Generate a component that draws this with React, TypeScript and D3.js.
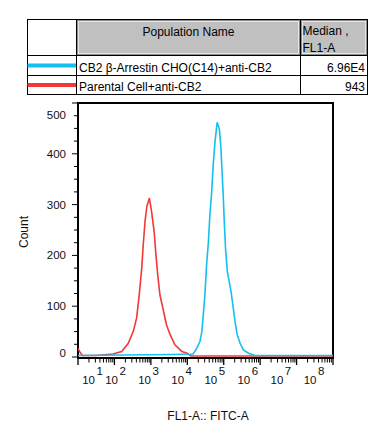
import {useEffect, useRef} from "react";
import * as d3 from "d3";

// histogram outlines: log10(FL1-A) vs count
const redLog = [1.0, 1.05, 1.12, 1.5, 1.96, 2.2, 2.38, 2.52, 2.61, 2.68, 2.75, 2.79, 2.84, 2.89, 2.96, 3.02, 3.09, 3.14, 3.19, 3.25, 3.33, 3.43, 3.53, 3.66, 3.85, 3.98, 4.1, 8.0];
const redCount = [15, 8, 1, 1, 4, 9, 25, 49, 75, 120, 173, 218, 265, 294, 311, 284, 245, 199, 159, 120, 94, 61, 42, 22, 9, 6, 0, 0];

const cyanLog = [1.0, 3.6, 4.16, 4.26, 4.35, 4.4, 4.44, 4.49, 4.53, 4.58, 4.62, 4.67, 4.71, 4.76, 4.82, 4.88, 4.92, 4.96, 4.99, 5.02, 5.05, 5.1, 5.15, 5.2, 5.25, 5.31, 5.37, 5.45, 5.54, 5.67, 5.86, 8.0];
const cyanCount = [1, 3, 4, 15, 29, 48, 81, 127, 180, 225, 277, 323, 375, 421, 460, 447, 414, 355, 310, 257, 212, 166, 147, 127, 101, 68, 42, 25, 12, 6, 1, 1];

const populations = ["CB2 β-Arrestin CHO(C14)+anti-CB2", "Parental Cell+anti-CB2"];
const medians = ["6.96E4", "943"];
const colors = ["#16bfee", "#f23838"];

const yTicks = [0, 100, 200, 300, 400, 500];
const xDecades = [1, 2, 3, 4, 5, 6, 7, 8];

const FONT = "'Liberation Sans', Arial, sans-serif";

const App = () => {
    const ref = useRef<SVGSVGElement>(null);

    useEffect(() => {
        const svg = d3.select(ref.current);
        svg.selectAll("*").remove();

        const left = 78, right = 333, top = 103, bottom = 357;
        const x = d3.scaleLog().domain([10, 1e8]).range([left, right]);
        const y = d3.scaleLinear().domain([0, 500]).range([bottom, top]);
        // decade labels are laid out a bit tighter than the ticks (as the cytometer software does)
        const labelX = d3.scaleLinear().domain([2, 8]).range([115.5, 314]);

        // ---- table / legend ----
        const tx = [27.5, 76.5, 300.5, 367.5];
        const ty = [19.5, 55.5, 75.5, 94.5];
        const t = svg.append("g").style("font-family", FONT).style("font-size", "12px");
        for (let c = 1; c < 3; c++) {
            t.append("rect").attr("x", tx[c] + 1).attr("y", ty[0] + 1)
                .attr("width", tx[c + 1] - tx[c] - 2).attr("height", ty[1] - ty[0] - 2)
                .attr("fill", "#c0c0c0").attr("stroke", "#8c8c8c").attr("stroke-width", 1);
            t.append("rect").attr("x", tx[c] + 2).attr("y", ty[0] + 2)
                .attr("width", tx[c + 1] - tx[c] - 4).attr("height", ty[1] - ty[0] - 4)
                .attr("fill", "none").attr("stroke", "#e6e6e6").attr("stroke-width", 1);
        }
        t.append("rect").attr("x", tx[0]).attr("y", ty[0]).attr("width", tx[3] - tx[0]).attr("height", ty[3] - ty[0])
            .attr("fill", "none").attr("stroke", "#000");
        tx.slice(1, 3).forEach(v => t.append("line").attr("x1", v).attr("x2", v).attr("y1", ty[0]).attr("y2", ty[3]).attr("stroke", "#000"));
        ty.slice(1, 3).forEach(v => t.append("line").attr("x1", tx[0]).attr("x2", tx[3]).attr("y1", v).attr("y2", v).attr("stroke", "#000"));

        t.append("text").attr("x", (tx[1] + tx[2]) / 2).attr("y", 36).attr("text-anchor", "middle").text("Population Name");
        t.append("text").attr("x", tx[2] + 2).attr("y", 35).text("Median ,");
        t.append("text").attr("x", tx[2] + 2).attr("y", 52).text("FL1-A");
        populations.forEach((p, i) => {
            const yy = (ty[i + 1] + ty[i + 2]) / 2;
            t.append("line").attr("x1", tx[0]).attr("x2", tx[1] - 0.5).attr("y1", yy).attr("y2", yy)
                .attr("stroke", colors[i]).attr("stroke-width", 4);
            t.append("text").attr("x", tx[1] + 2.5).attr("y", ty[i + 2] - 4).text(p);
            t.append("text").attr("x", tx[3] - 2.5).attr("y", ty[i + 2] - 4).attr("text-anchor", "end").text(medians[i]);
        });

        // ---- plot ----
        const g = svg.append("g").style("font-family", FONT).style("font-size", "11.5px");

        // y ticks
        d3.range(0, 501, 25).forEach(v => {
            const major = v % 100 === 0;
            g.append("line").attr("x1", left - (major ? 6 : 4)).attr("x2", left).attr("y1", y(v)).attr("y2", y(v))
                .attr("stroke", "#000").attr("stroke-width", 1);
        });
        yTicks.forEach(v => {
            const shift = v === 0 ? -4 : v === 500 ? 12 : 0;
            g.append("text").attr("x", 66).attr("y", y(v) + shift).attr("dy", "0.35em")
                .attr("text-anchor", "end").attr("fill", "#111").text(v);
        });

        // x ticks
        xDecades.forEach(d => {
            const xv = x(Math.pow(10, d));
            g.append("line").attr("x1", xv).attr("x2", xv).attr("y1", bottom).attr("y2", bottom + 8)
                .attr("stroke", "#000").attr("stroke-width", 1.3);
            if (d < 8) {
                for (let k = 2; k < 10; k++) {
                    const mv = x(k * Math.pow(10, d));
                    g.append("line").attr("x1", mv).attr("x2", mv).attr("y1", bottom).attr("y2", bottom + 5.5)
                        .attr("stroke", "#000").attr("stroke-width", 1);
                }
            }
            const cx = d === 1 ? 92.5 : labelX(d);
            const lab = g.append("text").attr("x", cx).attr("y", 384).attr("text-anchor", "middle").attr("fill", "#111");
            lab.append("tspan").text("10");
            lab.append("tspan").attr("dx", 1.5).attr("dy", -9).text(d);
        });

        // frame
        g.append("rect").attr("x", left).attr("y", top).attr("width", right - left).attr("height", bottom + 1 - top)
            .attr("fill", "none").attr("stroke", "#000").attr("stroke-width", 2);

        // histograms
        svg.append("clipPath").attr("id", "plotclip").append("rect")
            .attr("x", left).attr("y", top).attr("width", right - left).attr("height", bottom - top + 2);
        const line = d3.line<[number, number]>()
            .x(d => x(Math.pow(10, d[0])))
            .y(d => y(d[1]) - 1);
        const series = [
            {logs: redLog, counts: redCount, color: colors[1]},
            {logs: cyanLog, counts: cyanCount, color: colors[0]},
        ];
        series.forEach(s => {
            g.append("path")
                .datum(s.logs.map((l, i) => [l, s.counts[i]] as [number, number]))
                .attr("d", line)
                .attr("clip-path", "url(#plotclip)")
                .attr("fill", "none").attr("stroke", s.color).attr("stroke-width", 1.6);
        });

        // axis titles
        g.append("text").attr("transform", "translate(28,232) rotate(-90)").attr("text-anchor", "middle")
            .attr("fill", "#111").style("font-size", "12px").text("Count");
        g.append("text").attr("x", 208).attr("y", 420).attr("text-anchor", "middle")
            .attr("fill", "#111").style("font-size", "12px").text("FL1-A:: FITC-A");
    }, []);

    return (
        <div style={{position: "absolute", left: 0, top: 0}}>
            <svg ref={ref} width={388} height={435} style={{display: "block", background: "#fff"}}/>
        </div>
    );
};

export default App;
